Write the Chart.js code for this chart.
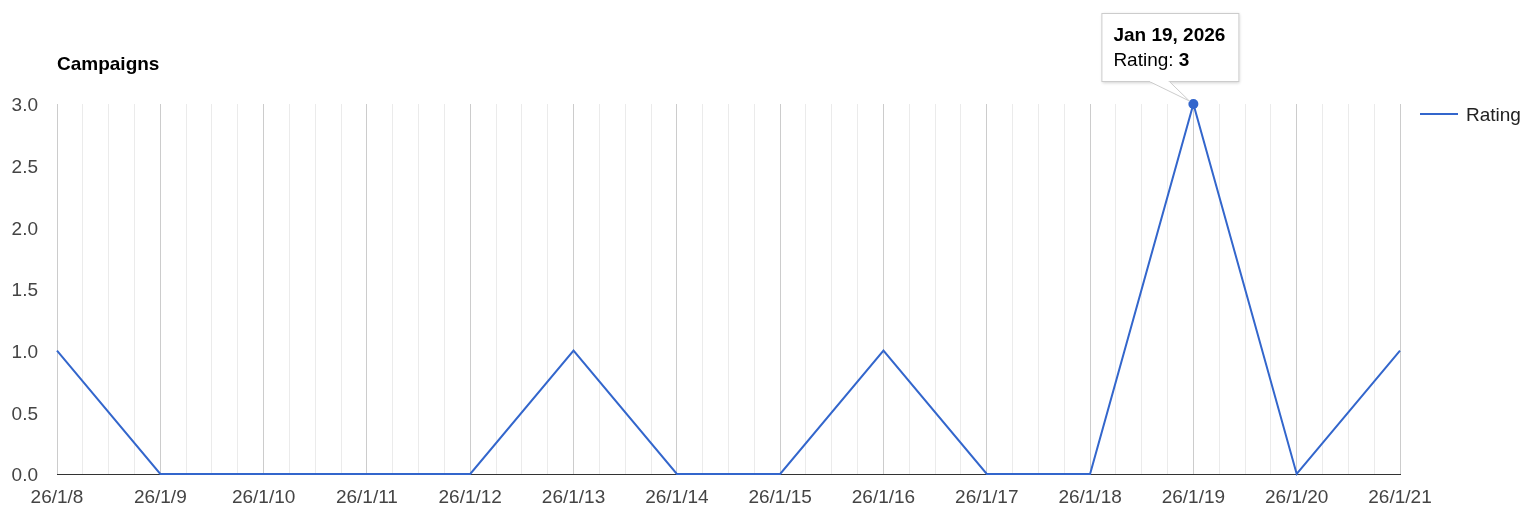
<!DOCTYPE html>
<html>
<head>
<meta charset="utf-8">
<script src="https://cdn.jsdelivr.net/npm/chart.js@4.4.1/dist/chart.umd.min.js"></script>
<style>
  html, body { margin: 0; padding: 0; background: #fff; }
  #wrap { position: relative; width: 1527px; height: 529px; }
</style>
</head>
<body>
<div id="wrap"><canvas id="chart"></canvas></div>
<script>
// dados do gráfico
const dayLabels = ['26/1/8', '26/1/9', '26/1/10', '26/1/11', '26/1/12', '26/1/13', '26/1/14',
                   '26/1/15', '26/1/16', '26/1/17', '26/1/18', '26/1/19', '26/1/20', '26/1/21'];
const ratingValues = [1, 0, 0, 0, 0, 1, 0, 0, 1, 0, 0, 3, 0, 1];
const yTicks = [0, 0.5, 1, 1.5, 2, 2.5, 3];
const chartTitle = 'Campaigns';
const seriesName = 'Rating';
const highlightIndex = 11; // ponto com tooltip aberto

const BLUE = '#3366cc';
const FONT = '"Liberation Sans", Arial, sans-serif';
const MONTHS = ['Jan', 'Feb', 'Mar', 'Apr', 'May', 'Jun', 'Jul', 'Aug', 'Sep', 'Oct', 'Nov', 'Dec'];

// "26/1/19" -> "Jan 19, 2026"
function longDate(label) {
    const [yy, mm, dd] = label.split('/').map(Number);
    return `${MONTHS[mm - 1]} ${dd}, ${2000 + yy}`;
}

Chart.defaults.font.family = FONT;
Chart.defaults.font.size = 19;
Chart.defaults.color = '#444444';

// título, legenda e tooltip no estilo do Google Charts
const extrasPlugin = {
    id: 'extras',
    afterDraw(chart) {
        const ctx = chart.ctx;
        const area = chart.chartArea;
        ctx.save();

        // título
        ctx.font = `bold 19px ${FONT}`;
        ctx.fillStyle = '#000';
        ctx.textAlign = 'left';
        ctx.textBaseline = 'middle';
        ctx.fillText(chartTitle, area.left, 65);

        // legenda
        const ly = area.top + 10;
        ctx.strokeStyle = BLUE;
        ctx.lineWidth = 2;
        ctx.beginPath();
        ctx.moveTo(area.right + 20, ly);
        ctx.lineTo(area.right + 58, ly);
        ctx.stroke();
        ctx.font = `19px ${FONT}`;
        ctx.fillStyle = '#222';
        ctx.fillText(seriesName, area.right + 66, ly + 2);

        // tooltip
        const pt = chart.getDatasetMeta(0).data[highlightIndex];
        const px = pt.x, py = pt.y;
        const bx = px - 92, by = py - 91, bw = 138, bh = 69;

        ctx.fillStyle = '#fff';
        ctx.strokeStyle = '#cccccc';
        ctx.lineWidth = 1;
        ctx.shadowColor = 'rgba(0,0,0,0.18)';
        ctx.shadowBlur = 3;
        ctx.shadowOffsetX = 1;
        ctx.shadowOffsetY = 1;
        ctx.fillRect(bx, by, bw, bh);
        ctx.shadowColor = 'transparent';
        ctx.strokeRect(bx + 0.5, by + 0.5, bw - 1, bh - 1);

        // seta do tooltip
        ctx.beginPath();
        ctx.moveTo(bx + 48, by + bh - 0.5);
        ctx.lineTo(px - 4, py - 3);
        ctx.lineTo(bx + 68, by + bh - 0.5);
        ctx.fill();
        ctx.stroke();
        ctx.fillRect(bx + 49, by + bh - 2, 18, 2);

        ctx.fillStyle = '#000';
        ctx.font = `bold 19px ${FONT}`;
        ctx.fillText(longDate(dayLabels[highlightIndex]), bx + 12, by + 23);
        ctx.font = `19px ${FONT}`;
        const lbl = seriesName + ': ';
        ctx.fillText(lbl, bx + 12, by + 48);
        const w = ctx.measureText(lbl).width;
        ctx.font = `bold 19px ${FONT}`;
        ctx.fillText(String(ratingValues[highlightIndex]), bx + 12 + w, by + 48);

        ctx.restore();
    }
};

const ctx = document.getElementById('chart').getContext('2d');

new Chart(ctx, {
    type: 'line',
    data: {
        datasets: [{
            label: seriesName,
            data: ratingValues.map((v, i) => ({ x: i, y: v })),
            borderColor: BLUE,
            backgroundColor: BLUE,
            borderWidth: 2,
            tension: 0,
            pointRadius: c => c.dataIndex === highlightIndex ? 5 : 0,
            pointHoverRadius: 0,
            pointBorderWidth: 0,
            clip: false
        }]
    },
    options: {
        responsive: true,
        maintainAspectRatio: false,
        animation: false,
        events: [],
        layout: { padding: { top: 104, right: 127, bottom: 0, left: 0 } },
        plugins: {
            legend: { display: false },
            tooltip: { enabled: false }
        },
        scales: {
            x: {
                type: 'linear',
                min: 0,
                max: dayLabels.length - 1,
                afterFit: s => { s.height = 55; },
                afterBuildTicks: s => {
                    const t = [];
                    for (let v = 0; v <= dayLabels.length - 1; v += 0.25) t.push({ value: v });
                    s.ticks = t;
                },
                ticks: {
                    autoSkip: false,
                    maxRotation: 0,
                    padding: 12,
                    color: '#444444',
                    callback: v => Number.isInteger(v) ? dayLabels[v] : ''
                },
                grid: {
                    drawTicks: false,
                    color: c => (c.tick && Number.isInteger(c.tick.value)) ? '#cccccc' : '#ebebeb',
                    lineWidth: 1
                },
                border: { display: true, color: '#333333', width: 1 }
            },
            y: {
                min: 0,
                max: 3,
                afterFit: s => { s.width = 57; },
                afterBuildTicks: s => { s.ticks = yTicks.map(v => ({ value: v })); },
                ticks: {
                    padding: 19,
                    labelOffset: 2,
                    color: '#444444',
                    callback: v => v.toFixed(1)
                },
                grid: { display: false, drawTicks: false },
                border: { display: false }
            }
        }
    },
    plugins: [extrasPlugin]
});
</script>
</body>
</html>
